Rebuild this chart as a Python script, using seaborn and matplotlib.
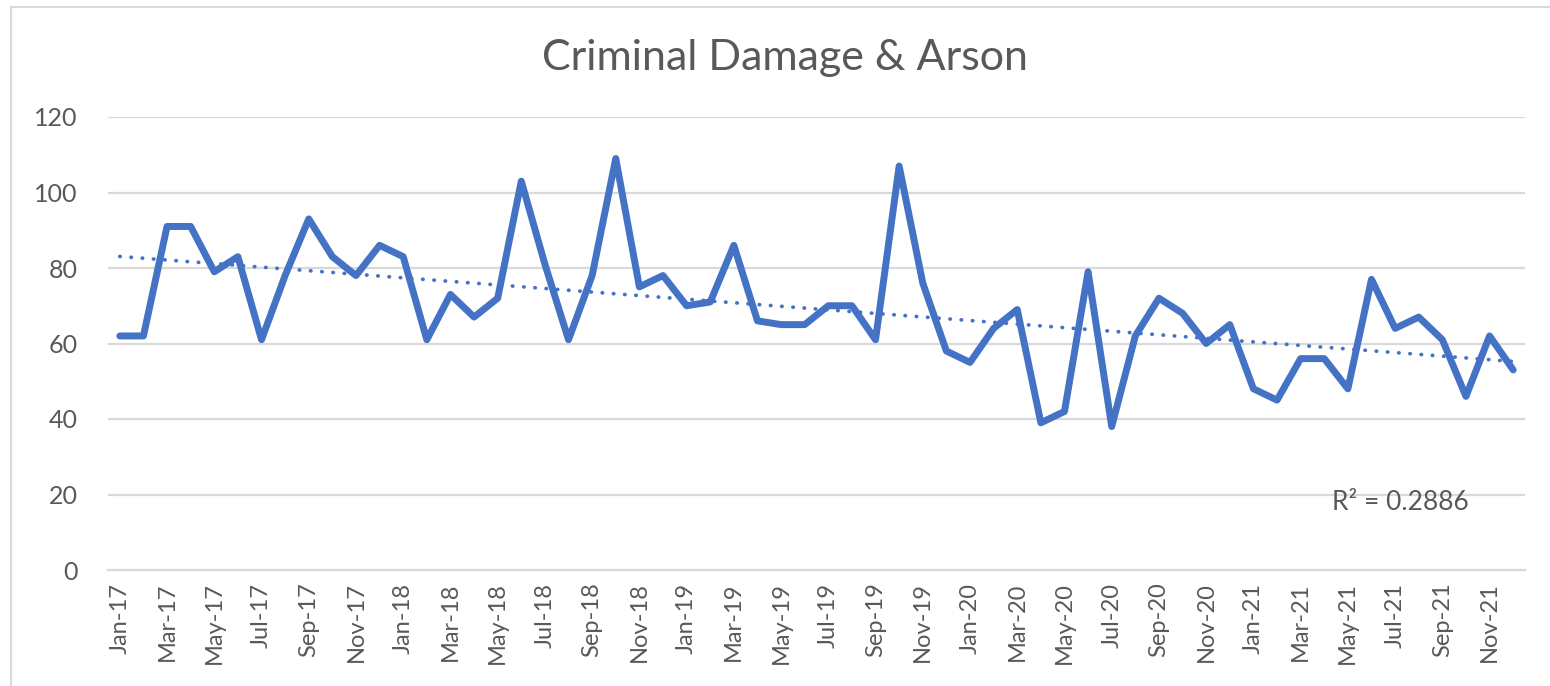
import numpy as np
import pandas as pd
import matplotlib
matplotlib.use("Agg")
import matplotlib.pyplot as plt
import seaborn as sns
from matplotlib.patches import Rectangle

months = ["Jan", "Feb", "Mar", "Apr", "May", "Jun",
          "Jul", "Aug", "Sep", "Oct", "Nov", "Dec"]
years = ["17", "18", "19", "20", "21"]
labels = [f"{m}-{y}" for y in years for m in months]

values_2017 = [62, 62, 91, 91, 79, 83, 61, 78, 93, 83, 78, 86]
values_2018 = [83, 61, 73, 67, 72, 103, 81, 61, 78, 109, 75, 78]
values_2019 = [70, 71, 86, 66, 65, 65, 70, 70, 61, 107, 76, 58]
values_2020 = [55, 64, 69, 39, 42, 79, 38, 62, 72, 68, 60, 65]
values_2021 = [48, 45, 56, 56, 48, 77, 64, 67, 61, 46, 62, 53]
values = values_2017 + values_2018 + values_2019 + values_2020 + values_2021

title = "Criminal Damage & Arson"
r2_label = "R² = 0.2886"
y_ticks = [0, 20, 40, 60, 80, 100, 120]

df = pd.DataFrame({"idx": np.arange(len(values)), "value": values, "label": labels})

sns.set_theme(style="white")
plt.rcParams["font.family"] = ["Lato", "DejaVu Sans"]

fig = plt.figure(figsize=(15.5, 6.86), dpi=100)
ax = fig.add_axes([108 / 1550, 1 - 570 / 686, (1525 - 108) / 1550, (570 - 117) / 686])

blue = "#4472C4"
grid_c = "#D9D9D9"
text_c = "#595959"

# gridlines
for yv in y_ticks[1:]:
    ax.axhline(yv, color=grid_c, lw=1.6, zorder=0)

sns.lineplot(data=df, x="idx", y="value", ax=ax, color=blue, lw=5.0,
             solid_joinstyle="round", solid_capstyle="round", zorder=3)

# linear trendline
coef = np.polyfit(df["idx"], df["value"], 1)
trend = np.polyval(coef, df["idx"])
ax.plot(df["idx"], trend, color=blue, lw=2.7, linestyle=(0, (0.1, 2.9)),
        dash_capstyle="round", zorder=4)

ax.set_xlim(-0.5, len(values) - 0.5)
ax.set_ylim(0, 120)
ax.set_xlabel("")
ax.set_ylabel("")

# y ticks
ax.set_yticks(y_ticks)
ax.set_yticklabels([str(v) for v in y_ticks], fontsize=18, color=text_c)
ax.tick_params(axis="y", length=0, pad=22)

# x ticks: marks at boundaries, labels at points
ax.set_xticks(np.arange(-0.5, len(values), 2))
ax.set_xticklabels([])
ax.set_xticks(np.arange(0, len(values), 2), minor=True)
ax.set_xticklabels(labels[::2], minor=True, rotation=90, fontsize=17, color=text_c)
ax.tick_params(axis="x", which="major", length=8, width=1.6, color=grid_c, direction="out")
ax.tick_params(axis="x", which="minor", length=0, pad=9)

for s in ["top", "right", "left"]:
    ax.spines[s].set_visible(False)
ax.spines["bottom"].set_color(grid_c)
ax.spines["bottom"].set_linewidth(1.6)
ax.spines["bottom"].set_zorder(1)

fig.text(785 / 1550, 1 - 58 / 686, title, ha="center", va="center",
         fontsize=31, color=text_c)
fig.text(1400 / 1550, 1 - 503 / 686, r2_label, ha="center", va="center",
         fontsize=19, color=text_c)

# chart border
fig.patches.append(Rectangle((11 / 1550, -0.05), 1.1, 1 - 7 / 686 + 0.05,
                             transform=fig.transFigure, fill=False,
                             edgecolor=grid_c, lw=1.5, zorder=0))

fig.savefig("out.png", dpi=100)
